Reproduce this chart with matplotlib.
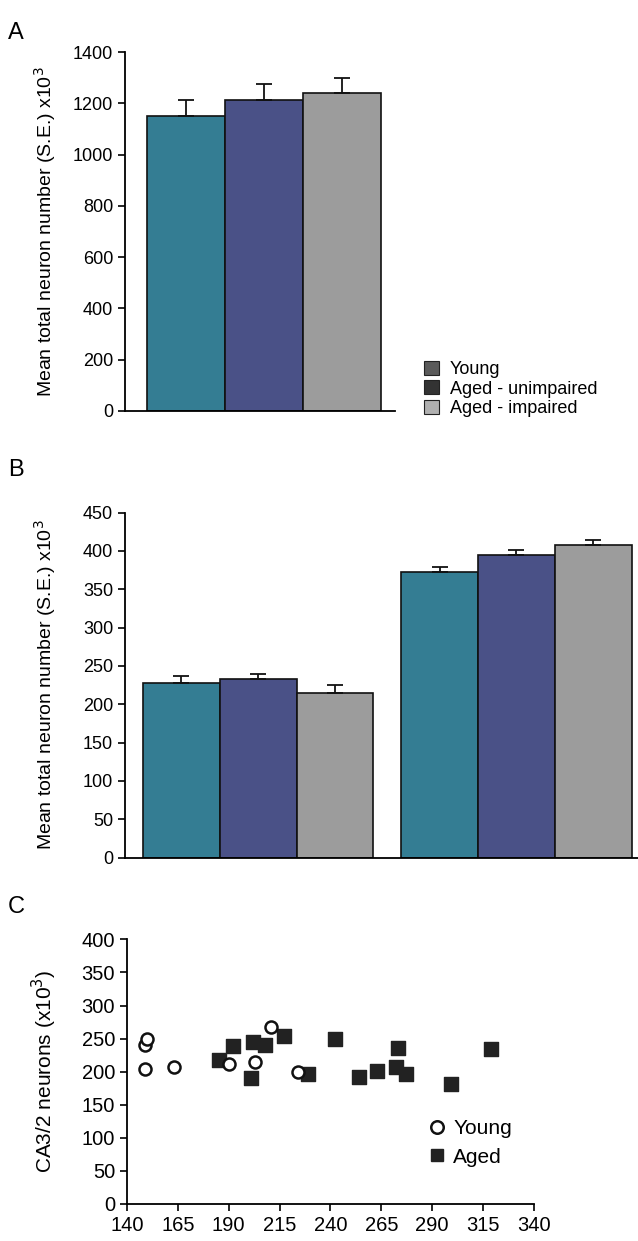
import numpy as np
import matplotlib.pyplot as plt
from matplotlib.patches import Patch
from matplotlib.lines import Line2D

plt.rcParams['font.family'] = ['Liberation Sans', 'DejaVu Sans']

# Panel A : total neurons
groups = ["Young", "Aged - unimpaired", "Aged - impaired"]
a_means = [1150, 1215, 1240]
a_err = [62, 60, 60]

# Panel B : two regions, three groups each
b_means_1 = [228, 233, 215]
b_err_1 = [9, 7, 10]
b_means_2 = [373, 395, 408]
b_err_2 = [6, 6, 6]

# Panel C : scatter
young_x = [149, 150, 149, 163, 190, 203, 211, 224]
young_y = [240, 249, 204, 207, 212, 215, 267, 199]
aged_x = [185, 192, 201, 202, 208, 217, 229, 242, 254, 263, 272, 273, 277, 299, 319]
aged_y = [217, 238, 190, 245, 241, 254, 197, 249, 192, 201, 207, 236, 197, 181, 234]

bar_colors = ["#347d93", "#4a5187", "#9c9c9c"]
legend_colors = ["#5a5a5a", "#333333", "#b0b0b0"]


def style(ax, size):
    for s in ["top", "right"]:
        ax.spines[s].set_visible(False)
    for s in ["left", "bottom"]:
        ax.spines[s].set_linewidth(1.3)
    ax.tick_params(direction="out", length=5, width=1.2, labelsize=size)


fig = plt.figure(figsize=(6.38, 12.41), dpi=100)

# ---- A
axA = fig.add_axes([0.196, 0.669, 0.423, 0.289])
xA = np.arange(3)
axA.bar(xA, a_means, width=1.0, color=bar_colors, edgecolor="#111111", linewidth=1.2)
axA.errorbar(xA, a_means, yerr=[[0, 0, 0], a_err], fmt="none", ecolor="#111111",
             elinewidth=1.3, capsize=6, capthick=1.3)
axA.set_xlim(-0.78, 2.68)
axA.set_ylim(0, 1400)
axA.set_yticks(range(0, 1401, 200))
axA.set_xticks([])
axA.set_ylabel("Mean total neuron number (S.E.) x10$^3$", fontsize=14, labelpad=11)
style(axA, 13)
handles = [Patch(facecolor=c, edgecolor="#222222", linewidth=0.8) for c in legend_colors]
axA.legend(handles, groups, loc="upper left", bbox_to_anchor=(0.665, 0.709),
           bbox_transform=fig.transFigure, frameon=False, fontsize=13,
           handlelength=0.8, handleheight=0.8, handletextpad=0.6, labelspacing=0.12,
           borderaxespad=0, borderpad=0)
fig.text(0.012, 0.982, "A", fontsize=17, va="top")

# ---- B
axB = fig.add_axes([0.196, 0.309, 0.804, 0.278])
xB1 = np.arange(3)
xB2 = np.arange(3) + 3.36
axB.bar(xB1, b_means_1, width=1.0, color=bar_colors, edgecolor="#111111", linewidth=1.2)
axB.bar(xB2, b_means_2, width=1.0, color=bar_colors, edgecolor="#111111", linewidth=1.2)
axB.errorbar(xB1, b_means_1, yerr=[[0, 0, 0], b_err_1], fmt="none", ecolor="#111111",
             elinewidth=1.3, capsize=6, capthick=1.3)
axB.errorbar(xB2, b_means_2, yerr=[[0, 0, 0], b_err_2], fmt="none", ecolor="#111111",
             elinewidth=1.3, capsize=6, capthick=1.3)
axB.set_xlim(-0.73, 5.94)
axB.set_ylim(0, 450)
axB.set_yticks(range(0, 451, 50))
axB.set_xticks([])
axB.set_ylabel("Mean total neuron number (S.E.) x10$^3$", fontsize=14, labelpad=18)
style(axB, 13)
fig.text(0.012, 0.630, "B", fontsize=17, va="top")

# ---- C
axC = fig.add_axes([0.199, 0.030, 0.638, 0.213])
axC.scatter(young_x, young_y, marker="o", s=75, facecolor="white",
            edgecolor="#111111", linewidth=1.8, zorder=3)
axC.scatter(aged_x, aged_y, marker="s", s=90, color="#222222", zorder=2)
axC.set_xlim(140, 340)
axC.set_ylim(0, 400)
axC.set_xticks(range(140, 341, 25))
axC.set_yticks(range(0, 401, 50))
axC.set_ylabel("CA3/2 neurons (x10$^3$)", fontsize=15, labelpad=16)
style(axC, 14.5)
leg_h = [Line2D([], [], marker="o", linestyle="none", markersize=9,
                markerfacecolor="white", markeredgecolor="#111111", markeredgewidth=1.8),
         Line2D([], [], marker="s", linestyle="none", markersize=9, color="#222222")]
axC.legend(leg_h, ["Young", "Aged"], loc="upper left", bbox_to_anchor=(0.735, 0.32),
           frameon=False, fontsize=15, handletextpad=0.3, labelspacing=0.45,
           borderaxespad=0, borderpad=0, handlelength=1.0)
fig.text(0.012, 0.278, "C", fontsize=17, va="top")

fig.savefig("out.png", dpi=100)
